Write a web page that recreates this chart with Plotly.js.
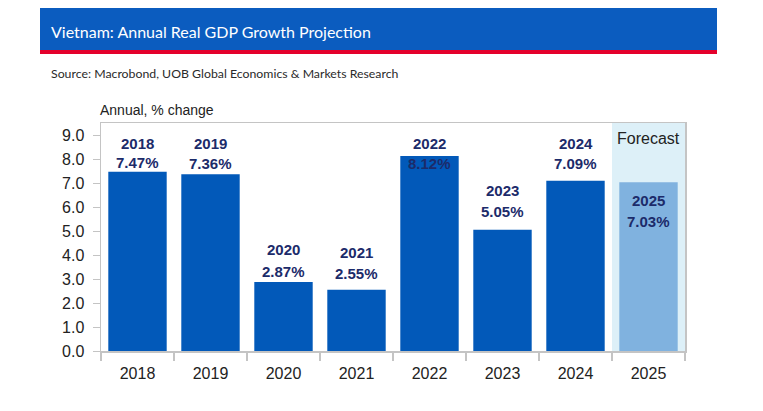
<!DOCTYPE html>
<html>
<head>
<meta charset="utf-8">
<script src="https://cdn.plot.ly/plotly-3.0.1.min.js"></script>
<style>
  html, body { margin: 0; padding: 0; background: #ffffff; }
  #chart { width: 763px; height: 411px; }
</style>
</head>
<body>
<div id="chart"></div>
<script>
// ---- data ----
const years = ["2018", "2019", "2020", "2021", "2022", "2023", "2024", "2025"];
const growth = [7.47, 7.36, 2.87, 2.55, 8.12, 5.05, 7.09, 7.03];
const forecastYears = ["2025"];
const yTickValues = [0, 1, 2, 3, 4, 5, 6, 7, 8, 9];
const chartTitle = "Vietnam: Annual Real GDP Growth Projection";
const sourceText = "Source: Macrobond, UOB Global Economics & Markets Research";
const unitText = "Annual, % change";
const forecastText = "Forecast";

// ---- style ----
const style = {
  bar: "#0259b9",
  barForecast: "#80b2df",
  shade: "#ddf0f8",
  label: "#1c2b6a",
  header: "#0b5cbf",
  stripe: "#e4002b",
  axis: "#c4c4c4",
  // pixel offsets of [year line, value line] relative to bar top
  labelShift: {
    "2018": [28, 9], "2019": [31, 11], "2020": [33, 11], "2021": [37, 16],
    "2022": [13, -7], "2023": [39, 18], "2024": [37, 17], "2025": [-18, -39]
  }
};

const barColors = years.map(y => forecastYears.includes(y) ? style.barForecast : style.bar);

const trace = {
  type: "bar",
  x: years,
  y: growth,
  marker: { color: barColors, line: { width: 0 } },
  hoverinfo: "skip"
};

const annotations = [];
years.forEach((yr, i) => {
  const s = style.labelShift[yr];
  annotations.push({
    x: i, y: growth[i], xref: "x", yref: "y", yanchor: "middle", xanchor: "center",
    yshift: s[0], text: "<b>" + yr + "</b>", showarrow: false,
    font: { family: "Liberation Sans, Arial, sans-serif", size: 15, color: style.label }
  });
  annotations.push({
    x: i, y: growth[i], xref: "x", yref: "y", yanchor: "middle", xanchor: "center",
    yshift: s[1], text: "<b>" + growth[i].toFixed(2) + "%</b>", showarrow: false,
    font: { family: "Liberation Sans, Arial, sans-serif", size: 15, color: style.label }
  });
});

// header texts (paper coords: plot spans x 101..685, y 123..351 px)
const px = v => (v - 101) / 584;
const py = v => (351 - v) / 228;

const firstForecast = years.indexOf(forecastYears[0]);

annotations.push({
  xref: "paper", yref: "paper", x: px(49), y: py(31), xanchor: "left", yanchor: "middle",
  text: chartTitle, showarrow: false,
  font: { family: "Lato, 'Open Sans', sans-serif", size: 16, color: "#ffffff" }
});
annotations.push({
  xref: "paper", yref: "paper", x: px(49), y: py(73), xanchor: "left", yanchor: "middle",
  text: sourceText, showarrow: false,
  font: { family: "Lato, 'Open Sans', sans-serif", size: 12.3, color: "#2a2a2a" }
});
annotations.push({
  xref: "paper", yref: "paper", x: px(98), y: py(110), xanchor: "left", yanchor: "middle",
  text: unitText, showarrow: false,
  font: { family: "Liberation Sans, Arial, sans-serif", size: 14, color: "#222222" }
});
annotations.push({
  xref: "x", yref: "paper", x: firstForecast, y: py(138), xanchor: "center", yanchor: "middle",
  text: forecastText, showarrow: false,
  font: { family: "Liberation Sans, Arial, sans-serif", size: 16, color: "#222222" }
});

const shapes = [
  { type: "rect", xref: "paper", yref: "paper", x0: px(40), x1: px(717), y0: py(50), y1: py(8),
    fillcolor: style.header, line: { width: 0 }, layer: "below" },
  { type: "rect", xref: "paper", yref: "paper", x0: px(40), x1: px(717), y0: py(54), y1: py(50),
    fillcolor: style.stripe, line: { width: 0 }, layer: "below" },
  { type: "rect", xref: "x", yref: "paper", x0: firstForecast - 0.5, x1: years.length - 0.5, y0: 0, y1: 1,
    fillcolor: style.shade, line: { width: 0 }, layer: "below" }
];

const layout = {
  width: 763, height: 411,
  margin: { l: 101, r: 78, t: 123, b: 60 },
  paper_bgcolor: "#ffffff",
  plot_bgcolor: "#ffffff",
  showlegend: false,
  bargap: 0.2,
  xaxis: {
    type: "category",
    categoryorder: "array",
    categoryarray: years,
    range: [-0.5, years.length - 0.5],
    autorange: false,
    tickson: "boundaries",
    tickangle: 0,
    ticks: "outside", ticklen: 8, tickcolor: style.axis, tickwidth: 1.5,
    showline: true, linecolor: style.axis, linewidth: 1.5, mirror: true,
    showgrid: false, zeroline: false,
    ticklabelstandoff: 7,
    tickfont: { family: "Liberation Sans, Arial, sans-serif", size: 16, color: "#222222" },
    fixedrange: true
  },
  yaxis: {
    range: [0, 9.5],
    autorange: false,
    tickvals: yTickValues,
    tickformat: ".1f",
    ticks: "outside", ticklen: 7, tickcolor: style.axis, tickwidth: 1,
    showline: true, linecolor: style.axis, linewidth: 1.5, mirror: true,
    showgrid: false, zeroline: false,
    ticklabelstandoff: 5,
    tickfont: { family: "Liberation Sans, Arial, sans-serif", size: 16, color: "#222222" },
    fixedrange: true
  },
  shapes: shapes,
  annotations: annotations
};

Plotly.newPlot("chart", [trace], layout, { displayModeBar: false, staticPlot: true });
</script>
</body>
</html>
